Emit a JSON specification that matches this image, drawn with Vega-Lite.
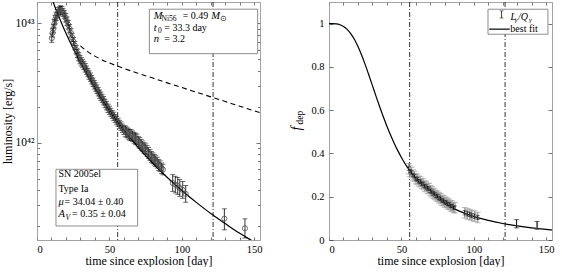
{
  "$schema": "https://vega.github.io/schema/vega-lite/v6.json",
  "background": "white",
  "padding": {"left": 1, "top": 1, "right": 5, "bottom": 0},
  "spacing": 69,
  "bounds": "flush",
  "config": {
    "view": {"stroke": null},
    "font": "Liberation Serif",
    "axis": {
      "labelFont": "Liberation Serif", "titleFont": "Liberation Serif",
      "labelFontSize": 10.5, "titleFontSize": 12, "titleFontWeight": "normal",
      "labelColor": "black", "titleColor": "black",
      "domainColor": "#8c8c8c", "domainWidth": 0.8,
      "tickColor": "#333333", "tickWidth": 0.7, "grid": false
    },
    "text": {"font": "Liberation Serif"}
  },
  "datasets": {
    "lum": [
      {"d":10.2,"L":7.5e42,"lo":6.92e42,"hi":8.13e42},
      {"d":10.8,"L":8.3e42,"lo":7.66e42,"hi":9.0e42},
      {"d":11.3,"L":9.0e42,"lo":8.3e42,"hi":9.76e42},
      {"d":11.9,"L":9.9e42,"lo":9.13e42,"hi":1.073e43},
      {"d":12.5,"L":1.07e43,"lo":9.87e42,"hi":1.16e43},
      {"d":13.2,"L":1.14e43,"lo":1.052e43,"hi":1.236e43},
      {"d":14.0,"L":1.2e43,"lo":1.107e43,"hi":1.301e43},
      {"d":14.8,"L":1.25e43,"lo":1.153e43,"hi":1.355e43},
      {"d":15.6,"L":1.28e43,"lo":1.181e43,"hi":1.388e43},
      {"d":16.4,"L":1.29e43,"lo":1.19e43,"hi":1.398e43},
      {"d":17.2,"L":1.27e43,"lo":1.172e43,"hi":1.377e43},
      {"d":18.0,"L":1.23e43,"lo":1.135e43,"hi":1.333e43},
      {"d":18.9,"L":1.18e43,"lo":1.089e43,"hi":1.279e43},
      {"d":19.8,"L":1.11e43,"lo":1.024e43,"hi":1.203e43},
      {"d":20.7,"L":1.04e43,"lo":9.59e42,"hi":1.127e43},
      {"d":21.6,"L":9.7e42,"lo":8.95e42,"hi":1.051e43},
      {"d":22.5,"L":9.0e42,"lo":8.3e42,"hi":9.76e42},
      {"d":23.4,"L":8.3e42,"lo":7.66e42,"hi":9.0e42},
      {"d":24.3,"L":7.6e42,"lo":7.01e42,"hi":8.24e42},
      {"d":25.2,"L":7.0e42,"lo":6.46e42,"hi":7.59e42},
      {"d":26.1,"L":6.5e42,"lo":6.0e42,"hi":7.05e42},
      {"d":27.0,"L":6.0e42,"lo":5.54e42,"hi":6.5e42},
      {"d":27.9,"L":5.6e42,"lo":5.17e42,"hi":6.07e42},
      {"d":28.8,"L":5.25e42,"lo":4.84e42,"hi":5.69e42},
      {"d":29.7,"L":4.95e42,"lo":4.57e42,"hi":5.37e42},
      {"d":30.6,"L":4.75e42,"lo":4.38e42,"hi":5.15e42},
      {"d":31.5,"L":4.6e42,"lo":4.24e42,"hi":4.99e42},
      {"d":32.4,"L":4.43e42,"lo":4.09e42,"hi":4.8e42},
      {"d":33.3,"L":4.23e42,"lo":3.9e42,"hi":4.59e42},
      {"d":34.2,"L":4.04e42,"lo":3.73e42,"hi":4.38e42},
      {"d":35.1,"L":3.86e42,"lo":3.56e42,"hi":4.18e42},
      {"d":36.0,"L":3.68e42,"lo":3.39e42,"hi":3.99e42},
      {"d":36.9,"L":3.53e42,"lo":3.26e42,"hi":3.83e42},
      {"d":37.8,"L":3.36e42,"lo":3.1e42,"hi":3.64e42},
      {"d":38.7,"L":3.2e42,"lo":2.95e42,"hi":3.47e42},
      {"d":39.6,"L":3.05e42,"lo":2.81e42,"hi":3.31e42},
      {"d":40.5,"L":2.92e42,"lo":2.69e42,"hi":3.17e42},
      {"d":41.4,"L":2.8e42,"lo":2.58e42,"hi":3.04e42},
      {"d":42.3,"L":2.67e42,"lo":2.46e42,"hi":2.89e42},
      {"d":43.2,"L":2.55e42,"lo":2.35e42,"hi":2.76e42},
      {"d":44.1,"L":2.44e42,"lo":2.25e42,"hi":2.65e42},
      {"d":45.0,"L":2.34e42,"lo":2.16e42,"hi":2.54e42},
      {"d":46.0,"L":2.24e42,"lo":2.07e42,"hi":2.43e42},
      {"d":47.0,"L":2.13e42,"lo":1.96e42,"hi":2.31e42},
      {"d":48.0,"L":2.04e42,"lo":1.88e42,"hi":2.21e42},
      {"d":49.0,"L":1.94e42,"lo":1.79e42,"hi":2.1e42},
      {"d":50.0,"L":1.86e42,"lo":1.72e42,"hi":2.02e42},
      {"d":51.0,"L":1.79e42,"lo":1.65e42,"hi":1.94e42},
      {"d":52.0,"L":1.72e42,"lo":1.59e42,"hi":1.86e42},
      {"d":53.0,"L":1.66e42,"lo":1.53e42,"hi":1.8e42},
      {"d":54.0,"L":1.59e42,"lo":1.47e42,"hi":1.72e42},
      {"d":55.0,"L":1.53e42,"lo":1.41e42,"hi":1.66e42},
      {"d":56.0,"L":1.48e42,"lo":1.37e42,"hi":1.6e42},
      {"d":57.0,"L":1.42e42,"lo":1.31e42,"hi":1.54e42},
      {"d":58.0,"L":1.37e42,"lo":1.26e42,"hi":1.49e42},
      {"d":59.0,"L":1.32e42,"lo":1.22e42,"hi":1.43e42},
      {"d":60.0,"L":1.27e42,"lo":1.17e42,"hi":1.38e42},
      {"d":61.0,"L":1.24e42,"lo":1.12e42,"hi":1.38e42},
      {"d":62.0,"L":1.22e42,"lo":1.1e42,"hi":1.35e42},
      {"d":63.0,"L":1.19e42,"lo":1.07e42,"hi":1.32e42},
      {"d":64.0,"L":1.16e42,"lo":1.05e42,"hi":1.29e42},
      {"d":65.0,"L":1.15e42,"lo":1.04e42,"hi":1.28e42},
      {"d":66.0,"L":1.13e42,"lo":1.02e42,"hi":1.25e42},
      {"d":67.0,"L":1.1e42,"lo":9.9e41,"hi":1.22e42},
      {"d":68.0,"L":1.08e42,"lo":9.7e41,"hi":1.2e42},
      {"d":69.0,"L":1.06e42,"lo":9.56e41,"hi":1.18e42},
      {"d":70.0,"L":1.02e42,"lo":9.2e41,"hi":1.13e42},
      {"d":71.0,"L":9.9e41,"lo":8.93e41,"hi":1.1e42},
      {"d":72.0,"L":9.6e41,"lo":8.66e41,"hi":1.065e42},
      {"d":73.0,"L":9.3e41,"lo":8.39e41,"hi":1.031e42},
      {"d":74.0,"L":9.0e41,"lo":8.12e41,"hi":9.98e41},
      {"d":75.0,"L":8.8e41,"lo":7.94e41,"hi":9.76e41},
      {"d":76.0,"L":8.5e41,"lo":7.66e41,"hi":9.43e41},
      {"d":77.0,"L":8.2e41,"lo":7.39e41,"hi":9.09e41},
      {"d":78.0,"L":7.9e41,"lo":7.12e41,"hi":8.76e41},
      {"d":79.0,"L":7.6e41,"lo":6.85e41,"hi":8.43e41},
      {"d":80.0,"L":7.4e41,"lo":6.67e41,"hi":8.21e41},
      {"d":81.0,"L":7.2e41,"lo":6.49e41,"hi":7.98e41},
      {"d":82.0,"L":7.0e41,"lo":6.31e41,"hi":7.76e41},
      {"d":83.0,"L":6.8e41,"lo":6.13e41,"hi":7.54e41},
      {"d":84.0,"L":6.5e41,"lo":5.86e41,"hi":7.21e41},
      {"d":85.0,"L":6.35e41,"lo":5.73e41,"hi":7.04e41},
      {"d":86.0,"L":6.1e41,"lo":5.5e41,"hi":6.76e41},
      {"d":87.0,"L":5.95e41,"lo":5.37e41,"hi":6.6e41},
      {"d":93.7,"L":4.59e41,"lo":3.91e41,"hi":5.39e41},
      {"d":95.5,"L":4.45e41,"lo":3.79e41,"hi":5.23e41},
      {"d":97.2,"L":4.34e41,"lo":3.69e41,"hi":5.1e41},
      {"d":98.6,"L":4.17e41,"lo":3.55e41,"hi":4.9e41},
      {"d":100.6,"L":4.02e41,"lo":3.42e41,"hi":4.72e41},
      {"d":102.7,"L":3.72e41,"lo":3.17e41,"hi":4.37e41},
      {"d":129.4,"L":2.31e41,"lo":1.86e41,"hi":2.79e41},
      {"d":143.6,"L":1.92e41,"lo":1.59e41,"hi":2.3e41}
    ],
    "lmodel": [
      {"d":10,"L":1.642e43},{"d":12.5,"L":1.362e43},{"d":15,"L":1.142e43},{"d":17.5,"L":9.66e42},
      {"d":20,"L":8.23e42},{"d":22.5,"L":7.08e42},{"d":25,"L":6.13e42},{"d":27.5,"L":5.33e42},
      {"d":30,"L":4.66e42},{"d":35,"L":3.62e42},{"d":40,"L":2.86e42},{"d":45,"L":2.29e42},
      {"d":50,"L":1.86e42},{"d":55,"L":1.53e42},{"d":60,"L":1.27e42},{"d":70,"L":9.09e41},
      {"d":80,"L":6.72e41},{"d":90,"L":5.1e41},{"d":100,"L":3.97e41},{"d":110,"L":3.16e41},
      {"d":120,"L":2.55e41},{"d":130,"L":2.1e41},{"d":140,"L":1.74e41},{"d":150,"L":1.47e41},
      {"d":154,"L":1.37e41}
    ],
    "lfull": [
      {"d":30,"L":6.47e42},{"d":35,"L":5.78e42},{"d":40,"L":5.3e42},{"d":45,"L":4.93e42},
      {"d":50,"L":4.64e42},{"d":55,"L":4.4e42},{"d":60,"L":4.18e42},{"d":70,"L":3.8e42},
      {"d":80,"L":3.47e42},{"d":90,"L":3.165e42},{"d":100,"L":2.893e42},{"d":110,"L":2.645e42},
      {"d":120,"L":2.417e42},{"d":130,"L":2.21e42},{"d":140,"L":2.019e42},{"d":150,"L":1.847e42},
      {"d":154,"L":1.781e42}
    ],
    "fcurve": [
      {"d":0,"f":1},{"d":2.5,"f":0.9998},{"d":5,"f":0.9986},{"d":7.5,"f":0.9947},{"d":10,"f":0.9869},
      {"d":12.5,"f":0.9737},{"d":15,"f":0.9542},{"d":17.5,"f":0.9277},{"d":20,"f":0.8943},
      {"d":22.5,"f":0.8549},{"d":25,"f":0.8105},{"d":27.5,"f":0.7628},{"d":30,"f":0.7136},
      {"d":32.5,"f":0.664},{"d":35,"f":0.6157},{"d":37.5,"f":0.5694},{"d":40,"f":0.5257},
      {"d":42.5,"f":0.485},{"d":45,"f":0.4474},{"d":47.5,"f":0.413},{"d":50,"f":0.3816},
      {"d":55,"f":0.3269},{"d":60,"f":0.2819},{"d":65,"f":0.2448},{"d":70,"f":0.2141},
      {"d":75,"f":0.1885},{"d":80,"f":0.167},{"d":85,"f":0.1489},{"d":90,"f":0.1335},
      {"d":100,"f":0.1089},{"d":110,"f":0.0904},{"d":120,"f":0.0762},{"d":130,"f":0.0651},
      {"d":140,"f":0.0562},{"d":150,"f":0.049},{"d":154,"f":0.0465}
    ],
    "vl": [{"d":55.7},{"d":121.6}],
    "fd": [
      {"d":55,"f":0.330,"lo":0.322,"hi":0.338,"slo":0.306,"shi":0.354},
      {"d":56,"f":0.318,"lo":0.310,"hi":0.326,"slo":0.294,"shi":0.342},
      {"d":57,"f":0.312,"lo":0.304,"hi":0.320,"slo":0.288,"shi":0.336},
      {"d":58,"f":0.300,"lo":0.292,"hi":0.308,"slo":0.276,"shi":0.324},
      {"d":59,"f":0.294,"lo":0.286,"hi":0.302,"slo":0.270,"shi":0.318},
      {"d":60,"f":0.284,"lo":0.276,"hi":0.292,"slo":0.260,"shi":0.308},
      {"d":61,"f":0.280,"lo":0.272,"hi":0.288,"slo":0.256,"shi":0.304},
      {"d":62,"f":0.272,"lo":0.264,"hi":0.280,"slo":0.248,"shi":0.296},
      {"d":63,"f":0.269,"lo":0.261,"hi":0.277,"slo":0.245,"shi":0.293},
      {"d":64,"f":0.261,"lo":0.253,"hi":0.269,"slo":0.237,"shi":0.285},
      {"d":65,"f":0.259,"lo":0.251,"hi":0.267,"slo":0.235,"shi":0.283},
      {"d":66,"f":0.250,"lo":0.242,"hi":0.258,"slo":0.226,"shi":0.274},
      {"d":67,"f":0.247,"lo":0.239,"hi":0.255,"slo":0.223,"shi":0.271},
      {"d":68,"f":0.240,"lo":0.232,"hi":0.248,"slo":0.216,"shi":0.264},
      {"d":69,"f":0.237,"lo":0.229,"hi":0.245,"slo":0.213,"shi":0.261},
      {"d":70,"f":0.228,"lo":0.220,"hi":0.236,"slo":0.204,"shi":0.252},
      {"d":71,"f":0.223,"lo":0.215,"hi":0.231,"slo":0.199,"shi":0.247},
      {"d":72,"f":0.216,"lo":0.208,"hi":0.224,"slo":0.192,"shi":0.240},
      {"d":73,"f":0.212,"lo":0.204,"hi":0.220,"slo":0.188,"shi":0.236},
      {"d":74,"f":0.205,"lo":0.197,"hi":0.213,"slo":0.181,"shi":0.229},
      {"d":75,"f":0.202,"lo":0.194,"hi":0.210,"slo":0.178,"shi":0.226},
      {"d":76,"f":0.195,"lo":0.187,"hi":0.203,"slo":0.171,"shi":0.219},
      {"d":77,"f":0.191,"lo":0.183,"hi":0.199,"slo":0.167,"shi":0.215},
      {"d":78,"f":0.184,"lo":0.176,"hi":0.192,"slo":0.160,"shi":0.208},
      {"d":79,"f":0.181,"lo":0.173,"hi":0.189,"slo":0.157,"shi":0.205},
      {"d":80,"f":0.175,"lo":0.167,"hi":0.183,"slo":0.151,"shi":0.199},
      {"d":81,"f":0.173,"lo":0.165,"hi":0.181,"slo":0.149,"shi":0.197},
      {"d":82,"f":0.167,"lo":0.159,"hi":0.175,"slo":0.143,"shi":0.191},
      {"d":83,"f":0.165,"lo":0.157,"hi":0.173,"slo":0.141,"shi":0.189},
      {"d":84,"f":0.158,"lo":0.150,"hi":0.166,"slo":0.134,"shi":0.182},
      {"d":85,"f":0.157,"lo":0.149,"hi":0.165,"slo":0.133,"shi":0.181},
      {"d":86,"f":0.150,"lo":0.142,"hi":0.158,"slo":0.126,"shi":0.174},
      {"d":87,"f":0.149,"lo":0.141,"hi":0.157,"slo":0.125,"shi":0.173},
      {"d":93.7,"f":0.126,"lo":0.116,"hi":0.136,"slo":0.102,"shi":0.150},
      {"d":95.5,"f":0.121,"lo":0.111,"hi":0.131,"slo":0.097,"shi":0.145},
      {"d":97.2,"f":0.118,"lo":0.108,"hi":0.128,"slo":0.094,"shi":0.142},
      {"d":98.6,"f":0.113,"lo":0.103,"hi":0.123,"slo":0.089,"shi":0.137},
      {"d":100.6,"f":0.110,"lo":0.100,"hi":0.120,"slo":0.086,"shi":0.134},
      {"d":102.7,"f":0.104,"lo":0.094,"hi":0.114,"slo":0.080,"shi":0.128},
      {"d":129.5,"f":0.075,"lo":0.056,"hi":0.094,"slo":0.056,"shi":0.094},
      {"d":143.7,"f":0.068,"lo":0.050,"hi":0.086,"slo":0.050,"shi":0.086}
    ],
    "lbox": [
      {"d":77.6,"d2":152.4,"L":5.56e42,"L2":1.31e43},
      {"d":13.1,"d2":69.5,"L":2.005e41,"L2":5.98e41}
    ],
    "ltr": [
      {"d":100.6,"L":1.151e43,"t":"= 0.49"},
      {"d":87.9,"L":9.19e42,"t":"= 33.3 day"},
      {"d":87.9,"L":7.35e42,"t":"= 3.2"},
      {"d":14.8,"L":5.43e41,"t":"SN 2005el"},
      {"d":14.8,"L":4.07e41,"t":"Type Ia"},
      {"d":19.0,"L":3.21e41,"t":"= 34.04 ± 0.40"},
      {"d":24.2,"L":2.51e41,"t":"= 0.35 ± 0.04"}
    ],
    "lti": [
      {"d":80.6,"L":1.151e43,"t":"M"},
      {"d":120.4,"L":1.151e43,"t":"M"},
      {"d":80.6,"L":9.19e42,"t":"t"},
      {"d":80.6,"L":7.35e42,"t":"n"},
      {"d":14.8,"L":3.21e41,"t":"μ"},
      {"d":14.8,"L":2.51e41,"t":"A"}
    ],
    "lts": [
      {"d":86.0,"L":1.087e43,"t":"Ni56"},
      {"d":126.4,"L":1.087e43,"t":"⊙"},
      {"d":83.6,"L":8.67e42,"t":"0"}
    ],
    "ltsi": [
      {"d":19.6,"L":2.36e41,"t":"V"}
    ],
    "rbox": [{"d":109.8,"d2":151.2,"f":0.951,"f2":1.0665}],
    "rsym": [{"d":119.2,"lo":1.026,"hi":1.059}],
    "rline": [{"d":110.6,"d2":124.8,"f":0.9745}],
    "rtr": [{"d":125.2,"f":0.976,"t":"best fit"}],
    "rti": [{"d":125.4,"f":1.031,"t":"L"},{"d":130.5,"f":1.031,"t":"/Q"}],
    "rts": [{"d":128.2,"f":1.017,"t":"γ"},{"d":138.1,"f":1.017,"t":"γ"}],
    "rttl": [{"d":-21.9,"f":0.5155,"t":"f"}],
    "rtts": [{"d":-19.8,"f":0.566,"t":"dep"}]
  },
  "hconcat": [
    {
      "width": 223,
      "height": 238,
      "resolve": {"axis": {"x": "independent", "y": "independent"}},
      "layer": [
        {
          "data": {"name": "vl"},
          "mark": {"type": "rule", "strokeDash": [5, 2, 1, 2], "strokeWidth": 0.8, "color": "black"},
          "encoding": {
            "x": {"field": "d", "type": "quantitative", "scale": {"domain": [0, 154], "nice": false}, "axis": null}
          }
        },
        {
          "data": {"name": "lfull"},
          "mark": {"type": "line", "strokeDash": [5, 3.5], "strokeWidth": 1.1, "color": "black", "interpolate": "monotone", "clip": true},
          "encoding": {
            "x": {"field": "d", "type": "quantitative", "scale": {"domain": [0, 154], "nice": false}, "axis": null},
            "y": {"field": "L", "type": "quantitative", "scale": {"type": "log", "domain": [1.53e41, 1.505e43], "nice": false}, "axis": null}
          }
        },
        {
          "data": {"name": "lmodel"},
          "mark": {"type": "line", "strokeWidth": 1.2, "color": "black", "interpolate": "monotone", "clip": true},
          "encoding": {
            "x": {"field": "d", "type": "quantitative", "scale": {"domain": [0, 154], "nice": false},
              "axis": {"orient": "top", "values": [0,10,20,30,40,50,60,70,80,90,100,110,120,130,140,150], "labels": false, "title": null, "tickSize": -3}},
            "y": {"field": "L", "type": "quantitative", "scale": {"type": "log", "domain": [1.53e41, 1.505e43], "nice": false},
              "axis": {"orient": "right", "values": [2e41,3e41,4e41,5e41,6e41,7e41,8e41,9e41,1e42,2e42,3e42,4e42,5e42,6e42,7e42,8e42,9e42,1e43], "labels": false, "title": null,
                "tickSize": {"condition": {"test": "datum.value == 1e42 || datum.value == 1e43", "value": -4}, "value": -2.5}}}
          }
        },
        {
          "data": {"name": "lum"},
          "mark": {"type": "rule", "color": "black", "strokeWidth": 0.8},
          "encoding": {
            "x": {"field": "d", "type": "quantitative", "scale": {"domain": [0, 154], "nice": false},
              "axis": {"orient": "bottom", "values": [0,10,20,30,40,50,60,70,80,90,100,110,120,130,140,150], "labelExpr": "datum.value % 50 === 0 ? datum.label : ''", "title": "time since explosion [day]", "tickSize": -3, "labelPadding": 7, "titlePadding": 1}},
            "y": {"field": "lo", "type": "quantitative", "scale": {"type": "log", "domain": [1.53e41, 1.505e43], "nice": false},
              "axis": {"orient": "left", "values": [2e41,3e41,4e41,5e41,6e41,7e41,8e41,9e41,1e42,2e42,3e42,4e42,5e42,6e42,7e42,8e42,9e42,1e43],
                "labelExpr": "datum.value == 1e42 ? '10⁴²' : (datum.value == 1e43 ? '10⁴³' : '')",
                "labelFontSize": 11.5,
                "title": "luminosity [erg/s]", "titlePadding": 1, "labelPadding": 7,
                "tickSize": {"condition": {"test": "datum.value == 1e42 || datum.value == 1e43", "value": -4}, "value": -2.5}}},
            "y2": {"field": "hi"}
          }
        },
        {
          "data": {"name": "lum"},
          "mark": {"type": "tick", "orient": "horizontal", "size": 5, "thickness": 0.8, "color": "black"},
          "encoding": {
            "x": {"field": "d", "type": "quantitative", "scale": {"domain": [0, 154], "nice": false}, "axis": null},
            "y": {"field": "lo", "type": "quantitative", "scale": {"type": "log", "domain": [1.53e41, 1.505e43], "nice": false}, "axis": null}
          }
        },
        {
          "data": {"name": "lum"},
          "mark": {"type": "tick", "orient": "horizontal", "size": 5, "thickness": 0.8, "color": "black"},
          "encoding": {
            "x": {"field": "d", "type": "quantitative", "scale": {"domain": [0, 154], "nice": false}, "axis": null},
            "y": {"field": "hi", "type": "quantitative", "scale": {"type": "log", "domain": [1.53e41, 1.505e43], "nice": false}, "axis": null}
          }
        },
        {
          "data": {"name": "lum"},
          "mark": {"type": "point", "shape": "circle", "filled": false, "size": 26, "stroke": "#4d4d4d", "strokeWidth": 0.8, "opacity": 1},
          "encoding": {
            "x": {"field": "d", "type": "quantitative", "scale": {"domain": [0, 154], "nice": false}, "axis": null},
            "y": {"field": "L", "type": "quantitative", "scale": {"type": "log", "domain": [1.53e41, 1.505e43], "nice": false}, "axis": null}
          }
        },
        {
          "data": {"name": "lbox"},
          "mark": {"type": "rect", "fill": "white", "stroke": "#707070", "strokeWidth": 0.8},
          "encoding": {
            "x": {"field": "d", "type": "quantitative", "scale": {"domain": [0, 154], "nice": false}, "axis": null},
            "x2": {"field": "d2"},
            "y": {"field": "L", "type": "quantitative", "scale": {"type": "log", "domain": [1.53e41, 1.505e43], "nice": false}, "axis": null},
            "y2": {"field": "L2"}
          }
        },
        {
          "data": {"name": "ltr"},
          "mark": {"type": "text", "align": "left", "baseline": "middle", "fontSize": 10, "color": "black"},
          "encoding": {
            "x": {"field": "d", "type": "quantitative", "scale": {"domain": [0, 154], "nice": false}, "axis": null},
            "y": {"field": "L", "type": "quantitative", "scale": {"type": "log", "domain": [1.53e41, 1.505e43], "nice": false}, "axis": null},
            "text": {"field": "t"}
          }
        },
        {
          "data": {"name": "lti"},
          "mark": {"type": "text", "align": "left", "baseline": "middle", "fontSize": 10.5, "fontStyle": "italic", "color": "black"},
          "encoding": {
            "x": {"field": "d", "type": "quantitative", "scale": {"domain": [0, 154], "nice": false}, "axis": null},
            "y": {"field": "L", "type": "quantitative", "scale": {"type": "log", "domain": [1.53e41, 1.505e43], "nice": false}, "axis": null},
            "text": {"field": "t"}
          }
        },
        {
          "data": {"name": "lts"},
          "mark": {"type": "text", "align": "left", "baseline": "middle", "fontSize": 7.5, "color": "black"},
          "encoding": {
            "x": {"field": "d", "type": "quantitative", "scale": {"domain": [0, 154], "nice": false}, "axis": null},
            "y": {"field": "L", "type": "quantitative", "scale": {"type": "log", "domain": [1.53e41, 1.505e43], "nice": false}, "axis": null},
            "text": {"field": "t"}
          }
        },
        {
          "data": {"name": "ltsi"},
          "mark": {"type": "text", "align": "left", "baseline": "middle", "fontSize": 7.5, "fontStyle": "italic", "color": "black"},
          "encoding": {
            "x": {"field": "d", "type": "quantitative", "scale": {"domain": [0, 154], "nice": false}, "axis": null},
            "y": {"field": "L", "type": "quantitative", "scale": {"type": "log", "domain": [1.53e41, 1.505e43], "nice": false}, "axis": null},
            "text": {"field": "t"}
          }
        }
      ]
    },
    {
      "width": 223,
      "height": 238,
      "resolve": {"axis": {"x": "independent", "y": "independent"}},
      "layer": [
        {
          "data": {"name": "vl"},
          "mark": {"type": "rule", "strokeDash": [5, 2, 1, 2], "strokeWidth": 0.8, "color": "black"},
          "encoding": {
            "x": {"field": "d", "type": "quantitative", "scale": {"domain": [0, 154], "nice": false}, "axis": null}
          }
        },
        {
          "data": {"name": "fcurve"},
          "mark": {"type": "line", "strokeWidth": 1.2, "color": "black", "interpolate": "monotone", "clip": true},
          "encoding": {
            "x": {"field": "d", "type": "quantitative", "scale": {"domain": [0, 154], "nice": false},
              "axis": {"orient": "top", "values": [0,10,20,30,40,50,60,70,80,90,100,110,120,130,140,150], "labels": false, "title": null, "tickSize": -3}},
            "y": {"field": "f", "type": "quantitative", "scale": {"domain": [0, 1.1], "nice": false},
              "axis": {"orient": "right", "values": [0,0.2,0.4,0.6,0.8,1], "labels": false, "title": null, "tickSize": -4}}
          }
        },
        {
          "data": {"name": "fd"},
          "mark": {"type": "rule", "color": "#9e9e9e", "strokeWidth": 1.3},
          "encoding": {
            "x": {"field": "d", "type": "quantitative", "scale": {"domain": [0, 154], "nice": false}, "axis": null},
            "y": {"field": "slo", "type": "quantitative", "scale": {"domain": [0, 1.1], "nice": false}, "axis": null},
            "y2": {"field": "shi"}
          }
        },
        {
          "data": {"name": "fd"},
          "mark": {"type": "tick", "orient": "horizontal", "size": 6, "thickness": 1, "color": "#9e9e9e"},
          "encoding": {
            "x": {"field": "d", "type": "quantitative", "scale": {"domain": [0, 154], "nice": false}, "axis": null},
            "y": {"field": "slo", "type": "quantitative", "scale": {"domain": [0, 1.1], "nice": false}, "axis": null}
          }
        },
        {
          "data": {"name": "fd"},
          "mark": {"type": "tick", "orient": "horizontal", "size": 6, "thickness": 1, "color": "#9e9e9e"},
          "encoding": {
            "x": {"field": "d", "type": "quantitative", "scale": {"domain": [0, 154], "nice": false}, "axis": null},
            "y": {"field": "shi", "type": "quantitative", "scale": {"domain": [0, 1.1], "nice": false}, "axis": null}
          }
        },
        {
          "data": {"name": "fd"},
          "mark": {"type": "rule", "color": "#1a1a1a", "strokeWidth": 1},
          "encoding": {
            "x": {"field": "d", "type": "quantitative", "scale": {"domain": [0, 154], "nice": false},
              "axis": {"orient": "bottom", "values": [0,10,20,30,40,50,60,70,80,90,100,110,120,130,140,150], "labelExpr": "datum.value % 50 === 0 ? datum.label : ''", "title": "time since explosion [day]", "tickSize": -3, "labelPadding": 7, "titlePadding": 1}},
            "y": {"field": "lo", "type": "quantitative", "scale": {"domain": [0, 1.1], "nice": false},
              "axis": {"orient": "left", "values": [0,0.2,0.4,0.6,0.8,1], "labelExpr": "format(datum.value, '~g')", "title": null, "tickSize": -4, "labelPadding": 9}},
            "y2": {"field": "hi"}
          }
        },
        {
          "data": {"name": "fd"},
          "mark": {"type": "tick", "orient": "horizontal", "size": 4, "thickness": 0.8, "color": "#1a1a1a"},
          "encoding": {
            "x": {"field": "d", "type": "quantitative", "scale": {"domain": [0, 154], "nice": false}, "axis": null},
            "y": {"field": "lo", "type": "quantitative", "scale": {"domain": [0, 1.1], "nice": false}, "axis": null}
          }
        },
        {
          "data": {"name": "fd"},
          "mark": {"type": "tick", "orient": "horizontal", "size": 4, "thickness": 0.8, "color": "#1a1a1a"},
          "encoding": {
            "x": {"field": "d", "type": "quantitative", "scale": {"domain": [0, 154], "nice": false}, "axis": null},
            "y": {"field": "hi", "type": "quantitative", "scale": {"domain": [0, 1.1], "nice": false}, "axis": null}
          }
        },
        {
          "data": {"name": "rbox"},
          "mark": {"type": "rect", "fill": "white", "stroke": "#707070", "strokeWidth": 0.8},
          "encoding": {
            "x": {"field": "d", "type": "quantitative", "scale": {"domain": [0, 154], "nice": false}, "axis": null},
            "x2": {"field": "d2"},
            "y": {"field": "f", "type": "quantitative", "scale": {"domain": [0, 1.1], "nice": false}, "axis": null},
            "y2": {"field": "f2"}
          }
        },
        {
          "data": {"name": "rsym"},
          "mark": {"type": "rule", "color": "#222222", "strokeWidth": 0.9},
          "encoding": {
            "x": {"field": "d", "type": "quantitative", "scale": {"domain": [0, 154], "nice": false}, "axis": null},
            "y": {"field": "lo", "type": "quantitative", "scale": {"domain": [0, 1.1], "nice": false}, "axis": null},
            "y2": {"field": "hi"}
          }
        },
        {
          "data": {"name": "rsym"},
          "mark": {"type": "tick", "orient": "horizontal", "size": 4, "thickness": 0.8, "color": "#222222"},
          "encoding": {
            "x": {"field": "d", "type": "quantitative", "scale": {"domain": [0, 154], "nice": false}, "axis": null},
            "y": {"field": "lo", "type": "quantitative", "scale": {"domain": [0, 1.1], "nice": false}, "axis": null}
          }
        },
        {
          "data": {"name": "rsym"},
          "mark": {"type": "tick", "orient": "horizontal", "size": 4, "thickness": 0.8, "color": "#222222"},
          "encoding": {
            "x": {"field": "d", "type": "quantitative", "scale": {"domain": [0, 154], "nice": false}, "axis": null},
            "y": {"field": "hi", "type": "quantitative", "scale": {"domain": [0, 1.1], "nice": false}, "axis": null}
          }
        },
        {
          "data": {"name": "rline"},
          "mark": {"type": "rule", "color": "black", "strokeWidth": 1.2},
          "encoding": {
            "x": {"field": "d", "type": "quantitative", "scale": {"domain": [0, 154], "nice": false}, "axis": null},
            "x2": {"field": "d2"},
            "y": {"field": "f", "type": "quantitative", "scale": {"domain": [0, 1.1], "nice": false}, "axis": null}
          }
        },
        {
          "data": {"name": "rtr"},
          "mark": {"type": "text", "align": "left", "baseline": "middle", "fontSize": 10, "color": "black"},
          "encoding": {
            "x": {"field": "d", "type": "quantitative", "scale": {"domain": [0, 154], "nice": false}, "axis": null},
            "y": {"field": "f", "type": "quantitative", "scale": {"domain": [0, 1.1], "nice": false}, "axis": null},
            "text": {"field": "t"}
          }
        },
        {
          "data": {"name": "rti"},
          "mark": {"type": "text", "align": "left", "baseline": "middle", "fontSize": 10, "fontStyle": "italic", "color": "black"},
          "encoding": {
            "x": {"field": "d", "type": "quantitative", "scale": {"domain": [0, 154], "nice": false}, "axis": null},
            "y": {"field": "f", "type": "quantitative", "scale": {"domain": [0, 1.1], "nice": false}, "axis": null},
            "text": {"field": "t"}
          }
        },
        {
          "data": {"name": "rts"},
          "mark": {"type": "text", "align": "left", "baseline": "middle", "fontSize": 7, "fontStyle": "italic", "color": "black"},
          "encoding": {
            "x": {"field": "d", "type": "quantitative", "scale": {"domain": [0, 154], "nice": false}, "axis": null},
            "y": {"field": "f", "type": "quantitative", "scale": {"domain": [0, 1.1], "nice": false}, "axis": null},
            "text": {"field": "t"}
          }
        },
        {
          "data": {"name": "rttl"},
          "mark": {"type": "text", "align": "center", "baseline": "middle", "fontSize": 14, "fontStyle": "italic", "angle": 270, "color": "black"},
          "encoding": {
            "x": {"field": "d", "type": "quantitative", "scale": {"domain": [0, 154], "nice": false}, "axis": null},
            "y": {"field": "f", "type": "quantitative", "scale": {"domain": [0, 1.1], "nice": false}, "axis": null},
            "text": {"field": "t"}
          }
        },
        {
          "data": {"name": "rtts"},
          "mark": {"type": "text", "align": "center", "baseline": "middle", "fontSize": 9.5, "angle": 270, "color": "black"},
          "encoding": {
            "x": {"field": "d", "type": "quantitative", "scale": {"domain": [0, 154], "nice": false}, "axis": null},
            "y": {"field": "f", "type": "quantitative", "scale": {"domain": [0, 1.1], "nice": false}, "axis": null},
            "text": {"field": "t"}
          }
        }
      ]
    }
  ]
}
